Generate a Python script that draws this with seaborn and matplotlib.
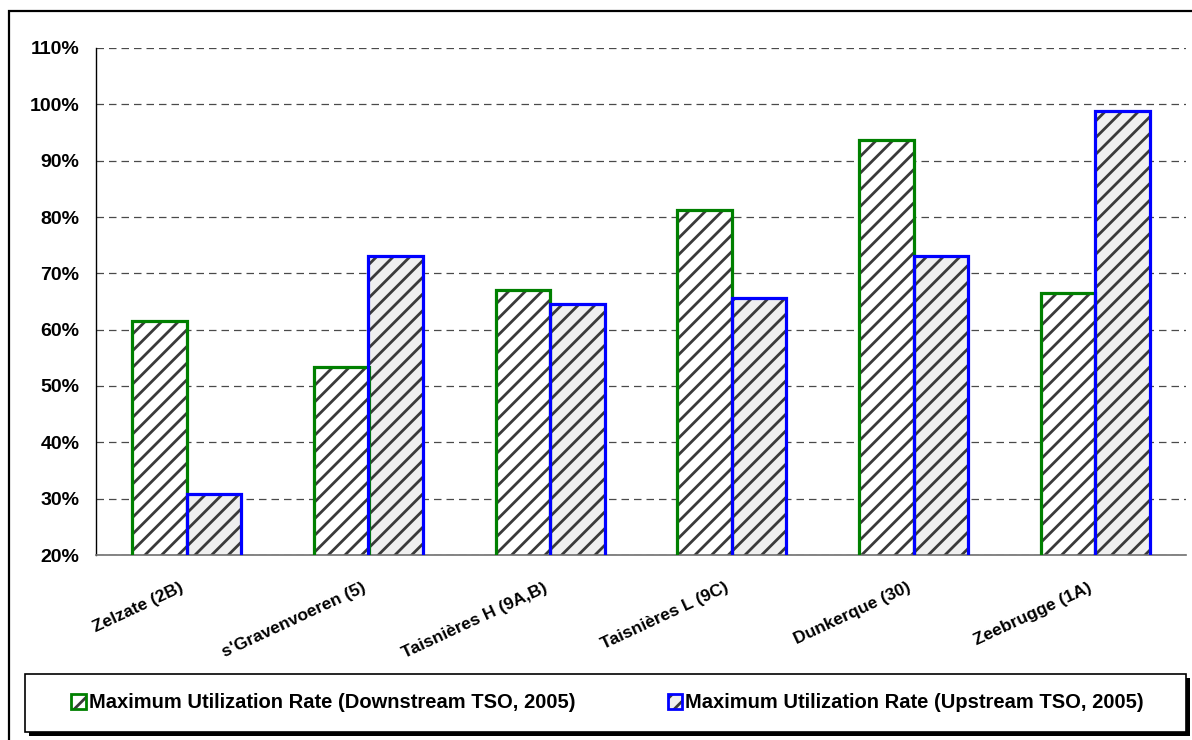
import matplotlib
matplotlib.use("Agg")
import matplotlib.pyplot as plt
import matplotlib.ticker as mticker
import matplotlib.transforms as mtransforms
from matplotlib.patches import Patch, Rectangle
from matplotlib.legend_handler import HandlerTuple
import seaborn as sns
import pandas as pd

# Interconnection points and maximum utilization rates (%)
locations = ["Zelzate (2B)", "s'Gravenvoeren (5)", "Taisnières H (9A,B)",
             "Taisnières L (9C)", "Dunkerque (30)", "Zeebrugge (1A)"]
downstream = [61.6, 53.3, 67.0, 81.3, 93.7, 66.5]
upstream = [30.8, 73.1, 64.5, 65.7, 73.1, 98.8]
series_names = ["Maximum Utilization Rate (Downstream TSO, 2005)",
                "Maximum Utilization Rate (Upstream TSO, 2005)"]
y_ticks = [20, 30, 40, 50, 60, 70, 80, 90, 100, 110]

edge_colors = ["#008000", "#0000FF"]
fill_colors = ["#FFFFFF", "#EFEFEF"]
hatch_color = "#3A3A3A"

df = pd.DataFrame({
    "location": locations * 2,
    "rate": downstream + upstream,
    "series": [series_names[0]] * len(locations) + [series_names[1]] * len(locations),
})

sns.set_style("white")
plt.rcParams["font.family"] = ["Liberation Sans", "DejaVu Sans"]
plt.rcParams["font.weight"] = "bold"
plt.rcParams["text.color"] = "black"
plt.rcParams["xtick.labelcolor"] = "black"
plt.rcParams["ytick.labelcolor"] = "black"
plt.rcParams["hatch.linewidth"] = 2.0

W, H = 1192, 740
fig = plt.figure(figsize=(W / 100, H / 100), dpi=100)
ax = fig.add_axes([96 / W, 1 - 555 / H, (1186 - 96) / W, (555 - 48) / H])

# hatched fill layer
sns.barplot(data=df, x="location", y="rate", hue="series", hue_order=series_names,
            palette=fill_colors, saturation=1, edgecolor=hatch_color, linewidth=0,
            hatch="//", width=0.6, errorbar=None, legend=False, ax=ax, zorder=2)
# coloured outline layer
sns.barplot(data=df, x="location", y="rate", hue="series", hue_order=series_names,
            palette=edge_colors, saturation=1, fill=False, linewidth=2.3,
            width=0.6, errorbar=None, legend=False, ax=ax, zorder=3)

ax.set_xlabel("")
ax.set_ylabel("")
ax.set_xlim(-0.5, len(locations) - 0.5)
ax.set_ylim(y_ticks[0], y_ticks[-1])
ax.set_yticks(y_ticks)
ax.yaxis.set_major_formatter(mticker.PercentFormatter(100, decimals=0))
ax.set_axisbelow(True)
ax.yaxis.grid(True, linestyle=(0, (6, 4)), color="#4A4A4A", linewidth=0.9)
ax.xaxis.grid(False)

for side in ("top", "right"):
    ax.spines[side].set_visible(False)
ax.spines["left"].set_color("black")
ax.spines["left"].set_linewidth(1.0)
ax.spines["bottom"].set_color("#707070")
ax.spines["bottom"].set_linewidth(1.2)

ax.tick_params(axis="y", which="major", direction="out", length=6, width=1,
               color="black", labelsize=14, pad=6)
ax.set_xticks(range(len(locations)))
ax.set_xticklabels(locations, rotation=25, ha="right", rotation_mode="anchor",
                   fontsize=12.5, fontweight="bold")
ax.set_xticks([i - 0.5 for i in range(len(locations) + 1)], minor=True)
ax.tick_params(axis="x", which="major", length=0, pad=18)
ax.tick_params(axis="x", which="minor", direction="out", length=6, width=1,
               color="#707070")
# nudge rotated category labels slightly left of their centres
shift = mtransforms.ScaledTranslation(-7 / 100, 0, fig.dpi_scale_trans)
for lbl in ax.get_xticklabels():
    lbl.set_transform(lbl.get_transform() + shift)
for lbl in ax.get_yticklabels():
    lbl.set_fontweight("bold")

# outer chart border
fig.add_artist(Rectangle((9 / W, -0.1), 1.2, 1 - 11 / H + 0.1, transform=fig.transFigure,
                         fill=False, edgecolor="black", linewidth=1.6, clip_on=False))

# legend box with drop shadow
lx0, lx1, ly0, ly1 = 25, 1186, 674, 732
fig.add_artist(Rectangle(((lx0 + 4) / W, 1 - (ly1 + 4) / H), (lx1 - lx0) / W,
                         (ly1 - ly0) / H, transform=fig.transFigure,
                         facecolor="black", edgecolor="none", zorder=5))
fig.add_artist(Rectangle((lx0 / W, 1 - ly1 / H), (lx1 - lx0) / W, (ly1 - ly0) / H,
                         transform=fig.transFigure, facecolor="white",
                         edgecolor="black", linewidth=1.2, zorder=6))

handles = []
for fc, ec in zip(fill_colors, edge_colors):
    handles.append((Patch(facecolor=fc, edgecolor=hatch_color, hatch="//", linewidth=0),
                    Patch(fill=False, edgecolor=ec, linewidth=2.0)))
leg = fig.legend(handles, series_names, loc="center",
                 bbox_to_anchor=((lx0 + lx1) / 2 / W + 2 / W, 1 - (ly0 + ly1) / 2 / H),
                 ncol=2, frameon=False, handlelength=0.7, handleheight=0.7,
                 handletextpad=0.15, columnspacing=4.6,
                 handler_map={tuple: HandlerTuple(ndivide=1, pad=0)},
                 prop={"size": 14.5, "weight": "bold"})
leg.set_zorder(7)

fig.savefig("out.png", dpi=100)
